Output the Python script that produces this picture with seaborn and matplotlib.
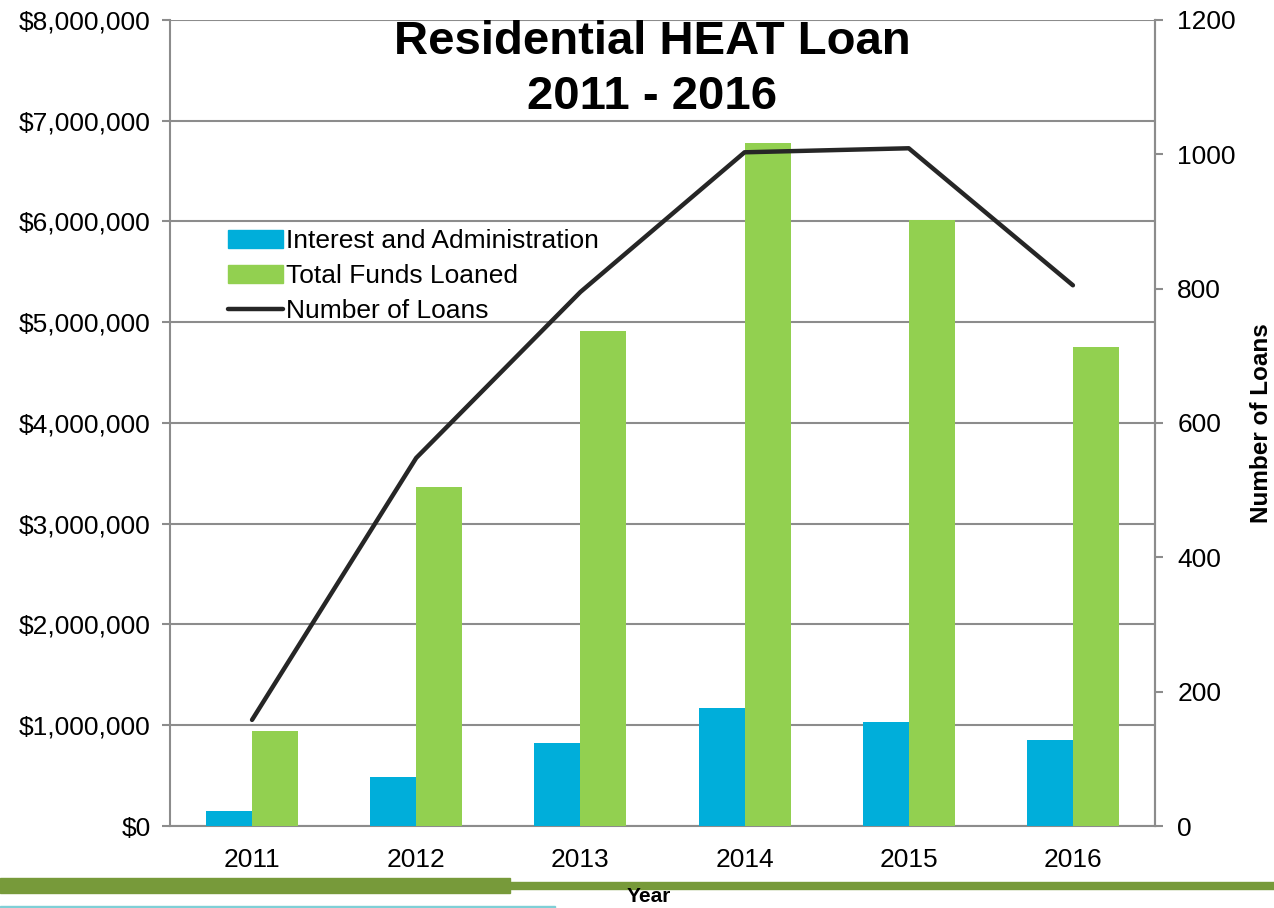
import numpy as np
import pandas as pd
import matplotlib
matplotlib.use("Agg")
import matplotlib.pyplot as plt
import seaborn as sns
from matplotlib.lines import Line2D
from matplotlib.patches import Rectangle
from matplotlib.ticker import FuncFormatter, MultipleLocator

# data
years = ["2011", "2012", "2013", "2014", "2015", "2016"]
interest_admin = [150000, 490000, 825000, 1170000, 1030000, 855000]
funds_loaned = [940000, 3365000, 4910000, 6780000, 6015000, 4755000]
num_loans = [158, 548, 795, 1003, 1009, 805]

series_names = ["Interest and Administration", "Total Funds Loaned"]
bar_colors = ["#00AEDA", "#92D050"]
grid_gray = "#8C8C8C"

df = pd.DataFrame({
    "Year": years * 2,
    "Series": [series_names[0]] * 6 + [series_names[1]] * 6,
    "Amount": interest_admin + funds_loaned,
})
loans_df = pd.DataFrame({"Year": years, "Loans": num_loans})

sns.set_style("white")
plt.rcParams["font.family"] = ["Liberation Sans", "DejaVu Sans"]
plt.rcParams["text.color"] = "black"
plt.rcParams["axes.labelcolor"] = "black"
plt.rcParams["xtick.color"] = "black"
plt.rcParams["ytick.color"] = "black"

fig = plt.figure(figsize=(12.74, 9.08), dpi=100)
ax = fig.add_axes([0.1334, 0.0903, 0.9066 - 0.1334, 0.978 - 0.0903])

sns.barplot(data=df, x="Year", y="Amount", hue="Series", palette=bar_colors,
            width=0.56, saturation=1, linewidth=0, ax=ax, zorder=3)
ax.set_ylim(0, 8000000)
ax.set_xlim(-0.5, 5.5)
ax.yaxis.set_major_locator(MultipleLocator(1000000))
ax.yaxis.set_major_formatter(FuncFormatter(lambda v, p: f"${v:,.0f}"))
ax.grid(axis="y", color=grid_gray, linewidth=1.5, zorder=0)
ax.set_axisbelow(True)
ax.set_xlabel("")
ax.set_ylabel("")

# category boundary ticks on x
ax.set_xticks(range(6))
ax.set_xticks(np.arange(-0.5, 6, 1), minor=True)
ax.tick_params(axis="x", which="major", length=0, labelsize=19, pad=16)
ax.tick_params(axis="x", which="minor", length=6, width=1.5, color=grid_gray)
ax.tick_params(axis="y", length=6, width=1.5, color=grid_gray, labelcolor="black",
               labelsize=19, left=True, pad=8)

for side in ["left", "bottom", "right"]:
    ax.spines[side].set_color(grid_gray)
    ax.spines[side].set_linewidth(1.5)
ax.spines["top"].set_visible(False)

ax2 = ax.twinx()
sns.lineplot(data=loans_df, x="Year", y="Loans", color="#262626", linewidth=3.2,
             ax=ax2, sort=False, zorder=4)
ax2.set_ylim(0, 1200)
ax2.yaxis.set_major_locator(MultipleLocator(200))
ax2.tick_params(axis="y", length=6, width=1.5, color=grid_gray, labelcolor="black",
                labelsize=19, right=True, pad=10)
ax2.set_ylabel("Number of Loans", fontsize=17.5, fontweight="bold", color="black",
               ha="center", va="center")
ax2.yaxis.set_label_coords(1.108, 0.5)
for side in ["left", "bottom", "right", "top"]:
    ax2.spines[side].set_visible(side == "right")
ax2.spines["right"].set_color(grid_gray)
ax2.spines["right"].set_linewidth(1.5)
ax2.set_xlabel("")
ax2.set_xlim(-0.5, 5.5)

# legend
handles = [
    Rectangle((0, 0), 1, 0.5, color=bar_colors[0]),
    Rectangle((0, 0), 1, 0.5, color=bar_colors[1]),
    Line2D([0], [0], color="#262626", linewidth=3.2),
]
ax.get_legend().remove()
ax2.legend(handles, series_names + ["Number of Loans"], loc="upper left",
           bbox_to_anchor=(228 / 1274, 1 - 229 / 908), bbox_transform=fig.transFigure,
           frameon=False, fontsize=19, handlelength=2.1, handleheight=0.65,
           handletextpad=0.1, labelspacing=0.42, borderaxespad=0, borderpad=0)

# title, two lines
fig.text(0.512, 1 - 42 / 908, "Residential HEAT Loan", ha="center", va="center",
         fontsize=34, fontweight="bold")
fig.text(0.512, 1 - 97 / 908, "2011 - 2016", ha="center", va="center",
         fontsize=34, fontweight="bold")

# decorative footer bars
fig.add_artist(Rectangle((0, 1 - 893 / 908), 510 / 1274, 15 / 908,
                         transform=fig.transFigure, color="#779A3A", zorder=1))
fig.add_artist(Rectangle((510 / 1274, 1 - 889 / 908), 1 - 510 / 1274, 7 / 908,
                         transform=fig.transFigure, color="#779A3A", zorder=1))
fig.add_artist(Rectangle((0, 0), 555 / 1274, 2 / 908,
                         transform=fig.transFigure, color="#7FCFD6", zorder=1))
fig.text(0.509, 1 - 897 / 908, "Year", ha="center", va="center",
         fontsize=15, fontweight="bold", zorder=5)

fig.savefig("out.png", dpi=100)
